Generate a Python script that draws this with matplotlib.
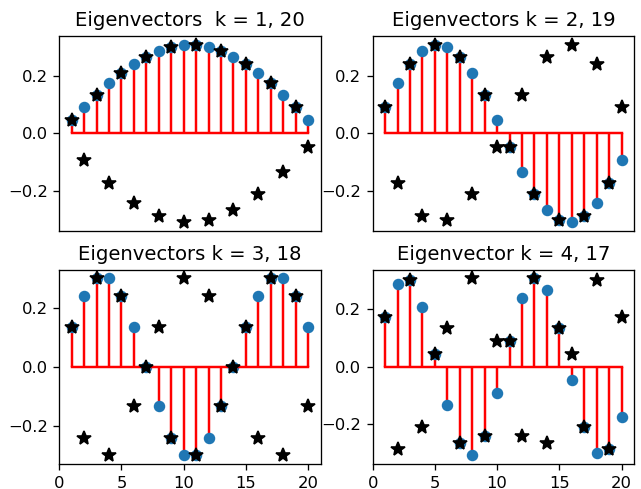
import numpy as np
import matplotlib
matplotlib.use("Agg")
import matplotlib.pyplot as plt

# sample index
n = list(range(1, 21))

# low-frequency eigenvectors (stems)
v1 = [0.046, 0.091, 0.134, 0.174, 0.210, 0.241, 0.267, 0.287, 0.301, 0.308,
      0.308, 0.301, 0.287, 0.267, 0.241, 0.210, 0.174, 0.134, 0.091, 0.046]
v2 = [0.091, 0.174, 0.241, 0.287, 0.308, 0.301, 0.267, 0.210, 0.134, 0.046,
      -0.046, -0.134, -0.210, -0.267, -0.301, -0.308, -0.287, -0.241, -0.174, -0.091]
v3 = [0.134, 0.241, 0.301, 0.301, 0.241, 0.134, 0.0, -0.134, -0.241, -0.301,
      -0.301, -0.241, -0.134, 0.0, 0.134, 0.241, 0.301, 0.301, 0.241, 0.134]
v4 = [0.174, 0.287, 0.301, 0.210, 0.046, -0.134, -0.267, -0.308, -0.241, -0.091,
      0.091, 0.241, 0.308, 0.267, 0.134, -0.046, -0.210, -0.301, -0.287, -0.174]

# high-frequency eigenvectors (stars)
v20 = [0.046, -0.091, 0.134, -0.174, 0.210, -0.241, 0.267, -0.287, 0.301, -0.308,
       0.308, -0.301, 0.287, -0.267, 0.241, -0.210, 0.174, -0.134, 0.091, -0.046]
v19 = [0.091, -0.174, 0.241, -0.287, 0.308, -0.301, 0.267, -0.210, 0.134, -0.046,
       -0.046, 0.134, -0.210, 0.267, -0.301, 0.308, -0.287, 0.241, -0.174, 0.091]
v18 = [0.134, -0.241, 0.301, -0.301, 0.241, -0.134, 0.0, 0.134, -0.241, 0.301,
       -0.301, 0.241, -0.134, 0.0, 0.134, -0.241, 0.301, -0.301, 0.241, -0.134]
v17 = [0.174, -0.287, 0.301, -0.210, 0.046, 0.134, -0.267, 0.308, -0.241, 0.091,
       0.091, -0.241, 0.308, -0.267, 0.134, 0.046, -0.210, 0.301, -0.287, 0.174]

titles = ["Eigenvectors  k = 1, 20", "Eigenvectors k = 2, 19",
          "Eigenvectors k = 3, 18", "Eigenvector k = 4, 17"]
low = [v1, v2, v3, v4]
high = [v20, v19, v18, v17]

fig, axes = plt.subplots(2, 2, figsize=(641 / 118, 489 / 118), dpi=118)
fig.subplots_adjust(left=0.0925, right=0.989, top=0.926, bottom=0.051,
                    wspace=0.2, hspace=0.2)

for i, ax in enumerate(axes.flat):
    ax.stem(n, low[i], linefmt='r-', markerfmt='C0o', basefmt='r-')
    ax.plot(n, high[i], 'k*', markersize=8.5)
    ax.set_title(titles[i])
    ax.set_xlim(0, 21)
    ax.set_yticks([-0.2, 0.0, 0.2])
    if i < 2:
        ax.set_xticks([])

plt.savefig("out.png", dpi=118)
